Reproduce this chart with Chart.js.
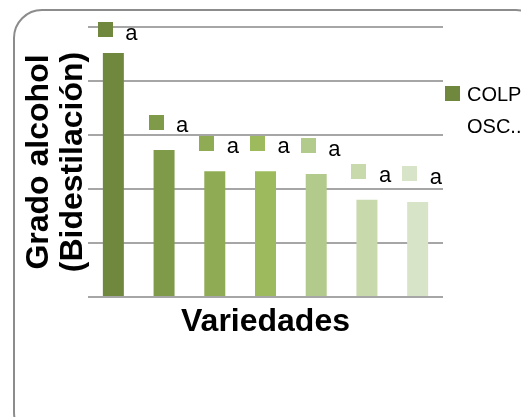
<!DOCTYPE html>
<html>
<head>
<meta charset="utf-8">
<script src="https://cdn.jsdelivr.net/npm/chart.js"></script>
<style>
  html, body { margin: 0; padding: 0; background: #fff; overflow: hidden; }
  canvas { display: block; }
</style>
</head>
<body>
<canvas id="chart" width="521" height="417" style="width:521px;height:417px"></canvas>
<script>
// data (y scale 0-50, gridline every 10)
const categories = ['V1', 'V2', 'V3', 'V4', 'V5', 'V6', 'V7'];
const values = [45.2, 27.2, 23.3, 23.3, 22.8, 18.0, 17.6];
const letters = ['a', 'a', 'a', 'a', 'a', 'a', 'a'];
const yTicks = [0, 10, 20, 30, 40, 50];
const legendLines = ['COLP', 'OSC..'];
const yTitle = ['Grado alcohol', '(Bidestilación)'];
const xTitle = 'Variedades';

const barColors = ['#6f883e', '#7f9b4a', '#8fac55', '#9dbb5c', '#b3ca8d', '#c8d9ac', '#d8e4c7'];
const FONT = '"Liberation Sans", Arial, sans-serif';

// rounded frame round the whole chart (right/bottom edges fall off the canvas)
const framePlugin = {
  id: 'frame',
  beforeDraw(chart){
    const c = chart.ctx;
    c.save();
    c.strokeStyle = '#8c8c8c';
    c.lineWidth = 2;
    c.beginPath();
    c.roundRect(14, 10, 530, 430, 28);
    c.stroke();
    c.restore();
  }
};

// "a" labels with a legend key square, above each bar
const letterPlugin = {
  id: 'letters',
  afterDatasetsDraw(chart){
    const c = chart.ctx;
    const bars = chart.getDatasetMeta(0).data;
    c.save();
    c.font = '22px ' + FONT;
    c.textBaseline = 'alphabetic';
    c.textAlign = 'left';
    bars.forEach((bar, i)=>{
      const cy = Math.max(bar.y - 28, chart.chartArea.top + 2.5);
      c.fillStyle = barColors[i];
      c.fillRect(Math.round(bar.x - 15.5), Math.round(cy - 7.5), 15, 15);
      c.fillStyle = '#000';
      c.fillText(letters[i], bar.x + 12, cy + 10);
    });
    c.restore();
  }
};

// legend at the right, clipped by the canvas edge like the original
const legendPlugin = {
  id: 'sideLegend',
  afterDraw(chart){
    const c = chart.ctx;
    const x = chart.chartArea.right + 2;
    c.save();
    c.fillStyle = barColors[0];
    c.fillRect(x, 86, 15, 15);
    c.fillStyle = '#000';
    c.font = '20px ' + FONT;
    c.textBaseline = 'alphabetic';
    legendLines.forEach((t, i)=> c.fillText(t, x + 22, 100.5 + i * 32.5));
    c.restore();
  }
};

new Chart(document.getElementById('chart'), {
  type: 'bar',
  data: {
    labels: categories,
    datasets: [{
      label: legendLines.join(' '),
      data: values,
      backgroundColor: barColors,
      borderWidth: 0,
      categoryPercentage: 1,
      barPercentage: 0.414
    }]
  },
  options: {
    responsive: false,
    animation: false,
    layout: { padding: { top: 27, right: 78, bottom: 0, left: 0 } },
    plugins: {
      legend: { display: false },
      tooltip: { enabled: false }
    },
    scales: {
      x: {
        grid: { display: false },
        border: { display: false },
        ticks: { display: false },
        title: {
          display: true,
          text: xTitle,
          color: '#000',
          font: { family: FONT, size: 32, weight: 'bold', lineHeight: 1.2 },
          padding: { top: 0, bottom: 76 }
        },
        afterFit(scale){ scale.height = 120; }
      },
      y: {
        min: 0,
        max: 50,
        afterBuildTicks(scale){ scale.ticks = yTicks.map(v=>({ value: v })); },
        grid: { color: '#a6a6a6', lineWidth: 2, drawTicks: false },
        border: { display: false },
        ticks: { display: false },
        title: {
          display: true,
          text: yTitle,
          color: '#000',
          font: { family: FONT, size: 32, weight: 'bold', lineHeight: 1.07 },
          padding: { top: 22, bottom: 0 }
        },
        afterFit(scale){ scale.width = 88; }
      }
    }
  },
  plugins: [framePlugin, letterPlugin, legendPlugin]
});
</script>
</body>
</html>
